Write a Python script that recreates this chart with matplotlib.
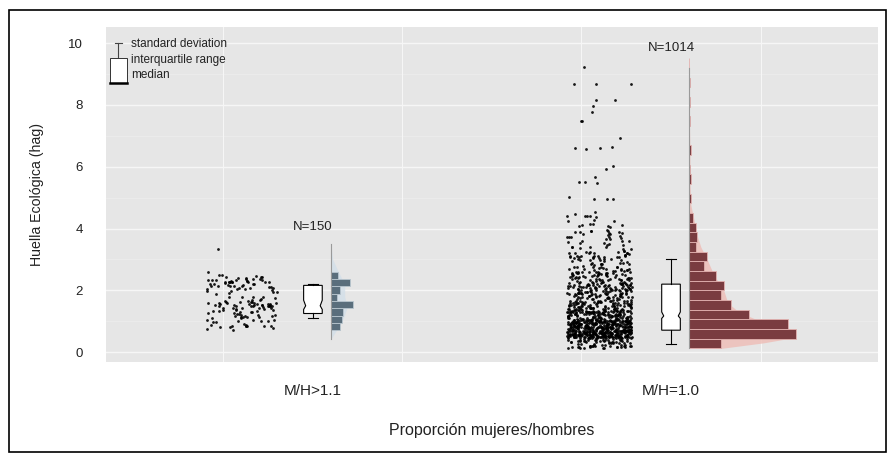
#!/usr/bin/env python3
"""Huella ecológica por proporción mujeres/hombres: strip + box + histograma."""

import numpy as np
import matplotlib
matplotlib.use("Agg")
import matplotlib.pyplot as plt
from matplotlib.patches import Polygon, Rectangle

# ---- data ----
CATEGORIES = ["M/H>1.1", "M/H=1.0"]
N_LABELS = ["N=150", "N=1014"]

# group M/H>1.1 : histogram bins (bottom to top) and isolated points
G1_BIN_EDGES = [0.71, 0.95, 1.18, 1.42, 1.65, 1.89, 2.13, 2.36, 2.60]
G1_COUNTS = [14, 17, 19, 35, 9, 14, 30, 11]
G1_HIGH = [3.35]

# group M/H=1.0 : bins up to 4.5 hag and isolated high values
G2_BIN_EDGES = [0.12, 0.433, 0.746, 1.059, 1.372, 1.685, 1.998, 2.311, 2.624,
                2.937, 3.25, 3.563, 3.876, 4.189, 4.502]
G2_COUNTS = [64, 215, 200, 120, 84, 64, 70, 54, 30, 36, 14, 17, 14, 9]
G2_HIGH = [4.54, 4.95, 4.95, 4.97, 5.03, 5.48, 5.5, 5.52, 5.67, 5.92, 6.02,
           6.57, 6.62, 6.62, 6.64, 6.94, 7.47, 7.47, 7.78, 7.96, 8.16, 8.16,
           8.67, 8.67, 8.67, 9.21]
G2_HIST_WIDTH = 0.313

# box statistics (whisker low, q1, notch low, median, notch high, q3, whisker high)
G1_BOX = [1.12, 1.25, 1.38, 1.50, 1.68, 2.16, 2.22]
G2_BOX = [0.26, 0.71, 1.09, 1.17, 1.30, 2.20, 3.00]

# density outline behind the histograms (value, width in count units)
G1_DENS_Y = [0.42, 0.8, 1.1, 1.45, 1.8, 2.2, 2.6, 3.0, 3.5]
G1_DENS_W = [0, 12, 20, 26, 22, 22, 12, 3, 0]
G2_DENS_Y = [0.12, 0.3, 0.48, 0.75, 1.0, 1.3, 1.6, 2.0, 2.5, 2.95, 3.4, 3.8,
             4.3, 4.75, 5.5, 6.6, 7.5, 8.7, 9.2]
G2_DENS_W = [64, 150, 214, 204, 144, 100, 78, 70, 50, 38, 24, 16, 10, 4, 2, 2,
             1, 1, 0]

# ---- style ----
PANEL = "#e6e6e6"
GRID = "#f6f6f6"
BAR_COLORS = ["#5a6e7c", "#7a3c40"]
BAR_EDGES = ["#b9c6cf", "#e3b2b0"]
DENS_COLORS = ["#d3dfe9", "#eebcb6"]
STRIP_OFFSET = [-0.2, -0.2]
STRIP_HALF = [0.1, 0.09]
HIST_OFFSET = 0.05
HIST_SCALE = [0.00176, 0.00139]
BOX_HALF = 0.026
CAP_HALF = 0.014
NOTCH_DEPTH = 0.22
N_LABEL_Y = [4.05, 9.85]


def scramble(k, seed):
    """Deterministic hash in [0, 1) used only to place jittered dots."""
    return (np.sin(k * 12.9898 + seed * 78.233) * 43758.5453) % 1.0


def expand(edges, counts, high, start):
    """Spread the binned counts inside their bins."""
    ys = []
    k = start
    for lo, hi, c in zip(edges[:-1], edges[1:], counts):
        for _ in range(c):
            ys.append(lo + (hi - lo) * (0.02 + 0.96 * scramble(k, 1.0)))
            k += 1
    ys.extend(high)
    return np.array(ys)


def jitter(n, start):
    idx = np.arange(start, start + n)
    return scramble(idx, 2.0) * 2 - 1


def draw_box(ax, x, stats):
    wlo, q1, nlo, med, nhi, q3, whi = stats
    l, r = x - BOX_HALF, x + BOX_HALF
    ln, rn = x - BOX_HALF * (1 - NOTCH_DEPTH), x + BOX_HALF * (1 - NOTCH_DEPTH)
    verts = [(l, q1), (r, q1), (r, nlo), (rn, med), (r, nhi), (r, q3),
             (l, q3), (l, nhi), (ln, med), (l, nlo)]
    ax.add_patch(Polygon(verts, closed=True, facecolor="white",
                         edgecolor="black", linewidth=0.8, zorder=4))
    ax.plot([x, x], [wlo, q1], color="black", lw=0.8, zorder=4)
    ax.plot([x, x], [q3, whi], color="black", lw=0.8, zorder=4)
    ax.plot([x - CAP_HALF, x + CAP_HALF], [wlo, wlo], color="black", lw=0.8, zorder=4)
    ax.plot([x - CAP_HALF, x + CAP_HALF], [whi, whi], color="black", lw=0.8, zorder=4)


def main():
    plt.rcParams["font.family"] = ["Liberation Sans", "DejaVu Sans"]
    fig = plt.figure(figsize=(8.89, 4.54), dpi=100)
    ax = fig.add_axes([0.1192, 0.2026, 0.8684, 0.7379])
    ax.set_facecolor(PANEL)
    ax.set_xlim(-0.578, 1.578)
    ax.set_ylim(-0.32, 10.52)

    # grid
    for v in [0, 2, 4, 6, 8, 10]:
        ax.axhline(v, color=GRID, lw=1.0, zorder=0)
    for v in [1, 3, 5, 7, 9]:
        ax.axhline(v, color=GRID, lw=0.4, alpha=0.6, zorder=0)
    for v in [-0.25, 0.25, 0.75, 1.25]:
        ax.axvline(v, color=GRID, lw=0.8, zorder=0)

    groups = [
        (G1_BIN_EDGES, G1_COUNTS, G1_HIGH, G1_BOX, G1_DENS_Y, G1_DENS_W),
        (G2_BIN_EDGES, G2_COUNTS, G2_HIGH, G2_BOX, G2_DENS_Y, G2_DENS_W),
    ]
    start = 0
    for i, (edges, counts, high, box, dy, dw) in enumerate(groups):
        ys = expand(edges, counts, high, start)
        xs = i + STRIP_OFFSET[i] + STRIP_HALF[i] * jitter(len(ys), start)
        start += len(ys)
        ax.scatter(xs, ys, s=4, color="black", linewidths=0, alpha=0.9, zorder=3)

        draw_box(ax, i, box)

        # histogram of the same values
        if i == 0:
            hist_edges = np.array(G1_BIN_EDGES)
        else:
            hist_edges = G2_BIN_EDGES[0] + G2_HIST_WIDTH * np.arange(31)
        hc, he = np.histogram(ys, bins=hist_edges)
        base = i + HIST_OFFSET
        ax.fill_betweenx(dy, base, base + np.array(dw) * HIST_SCALE[i],
                         color=DENS_COLORS[i], alpha=0.8, lw=0, zorder=2)
        keep = hc > 0
        ax.barh(he[:-1][keep], hc[keep] * HIST_SCALE[i], height=np.diff(he)[keep],
                left=base, align="edge", color=BAR_COLORS[i],
                edgecolor=BAR_EDGES[i], linewidth=0.6, zorder=3)
        ax.plot([base, base], [min(dy), max(dy)], color="#9a9a9a", lw=0.8, zorder=3)

        ax.text(i, N_LABEL_Y[i], N_LABELS[i], ha="center", va="center", fontsize=9.5,
                color="#222222")

    # legend icon, top-left
    tr = ax.transAxes
    ax.plot([0.0117, 0.0203], [0.9513, 0.9513], color="#444444", lw=0.8, transform=tr)
    ax.plot([0.0159, 0.0159], [0.9513, 0.9066], color="#444444", lw=0.8, transform=tr)
    ax.add_patch(Rectangle((0.0052, 0.8319), 0.0224, 0.0747, transform=tr,
                           facecolor="white", edgecolor="#333333", lw=0.7, zorder=5))
    ax.plot([0.0052, 0.0276], [0.8319, 0.8319], color="black", lw=1.8,
            transform=tr, zorder=6)
    for txt, yy in [("standard deviation", 0.949), ("interquartile range", 0.901),
                    ("median", 0.857)]:
        ax.text(0.032, yy, txt, transform=tr, fontsize=8.5, va="center",
                ha="left", color="#222222")

    # axes styling
    for s in ax.spines.values():
        s.set_visible(False)
    ax.set_yticks([0, 2, 4, 6, 8, 10])
    ax.set_xticks([0, 1])
    ax.set_xticklabels(CATEGORIES)
    ax.tick_params(axis="y", length=0, pad=16.5, labelsize=9.5, labelcolor="#222222")
    ax.tick_params(axis="x", length=0, pad=16, labelsize=11, labelcolor="#222222")
    ax.set_xlabel("Proporción mujeres/hombres", fontsize=11.5, color="#222222", va="center")
    ax.xaxis.set_label_coords(0.5, -0.203)
    ax.set_ylabel("Huella Ecológica (hag)", fontsize=10.2, color="#222222", va="center")
    ax.yaxis.set_label_coords(-0.0894, 0.5)

    # outer frame
    fig.add_artist(Rectangle((9 / 889, 2 / 454), 877 / 889, 442 / 454,
                             transform=fig.transFigure, fill=False,
                             edgecolor="black", lw=1.2))

    fig.savefig("out.png", dpi=100)
    plt.close(fig)


if __name__ == "__main__":
    main()
